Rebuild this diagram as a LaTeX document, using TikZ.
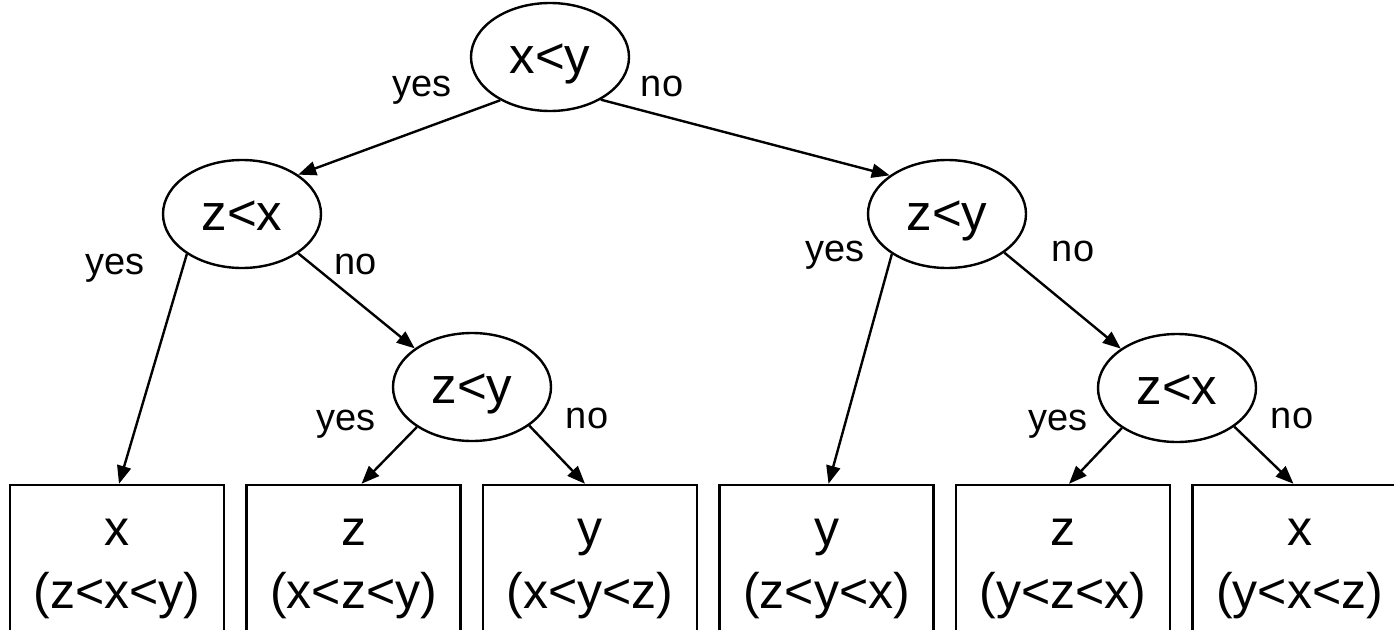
\documentclass[tikz,border=0pt]{standalone}
\usepackage{fontspec}
\setmainfont{Liberation Sans}
\usetikzlibrary{shapes.geometric,arrows.meta}
\begin{document}
\begin{tikzpicture}[x=1pt,y=-1pt,
  test/.style={ellipse,draw,line width=2.4pt,minimum width=158pt,minimum height=108pt,
    inner sep=0pt,font=\fontsize{51}{60}\selectfont,text height=32pt,text depth=0pt},
  leaf/.style={rectangle,draw,line width=2.4pt,minimum width=214pt,minimum height=230pt,
    inner sep=0pt,align=center,font=\fontsize{50}{63}\selectfont,text height=26pt,text depth=10pt},
  edge/.style={line width=2.4pt,-{Triangle[length=18pt,width=14pt]}},
  lbl/.style={font=\fontsize{38}{44}\selectfont,inner sep=0pt}]
\useasboundingbox (0,0) rectangle (1394,629);
\clip (0,0) rectangle (1394,629);

% decision nodes
\node[test] (root) at (550,57)   {x<y};
\node[test] (zx1)  at (242,214)  {z<x};
\node[test] (zy1)  at (947,214)  {z<y};
\node[test] (zy2)  at (472,387)  {z<y};
\node[test] (zx2)  at (1177,388) {z<x};

% outcomes (boxes run past the lower edge)
\node[leaf] (l1) at (117,600)    {x\\(z<x<y)};
\node[leaf] (l2) at (353.5,600)  {z\\(x<z<y)};
\node[leaf] (l3) at (590,600)    {y\\(x<y<z)};
\node[leaf] (l4) at (826.5,600)  {y\\(z<y<x)};
\node[leaf] (l5) at (1063,600)   {z\\(y<z<x)};
\node[leaf] (l6) at (1299.5,600) {x\\(y<x<z)};

% branches
\draw[edge] (root.-139) -- (zx1.35);
\draw[edge] (root.-40)  -- (zy1.146);
\draw[edge] (zx1.-144)  -- ([xshift=2pt]l1.north);
\draw[edge] (zx1.-35)   -- (zy2.146);
\draw[edge] (zy2.-144)  -- ([xshift=8pt]l2.north);
\draw[edge] (zy2.-34)   -- ([xshift=-5pt]l3.north);
\draw[edge] (zy1.-144)  -- ([xshift=2pt]l4.north);
\draw[edge] (zy1.-34)   -- (zx2.145);
\draw[edge] (zx2.-144)  -- ([xshift=6pt]l5.north);
\draw[edge] (zx2.-34)   -- ([xshift=-6pt]l6.north);

% branch labels
\node[lbl] (y0) at (422,90)   {yes};
\node[lbl] (n0) at (662,86)   {no};
\node[lbl] (y1) at (115,268)  {yes};
\node[lbl] (n1) at (356,264)  {no};
\node[lbl] (y2) at (346,424)  {yes};
\node[lbl] (n2) at (587,418)  {no};
\node[lbl] (y3) at (835,255)  {yes};
\node[lbl] (n3) at (1073,251) {no};
\node[lbl] (y4) at (1058,424) {yes};
\node[lbl] (n4) at (1292,418) {no};
\end{tikzpicture}
\end{document}
